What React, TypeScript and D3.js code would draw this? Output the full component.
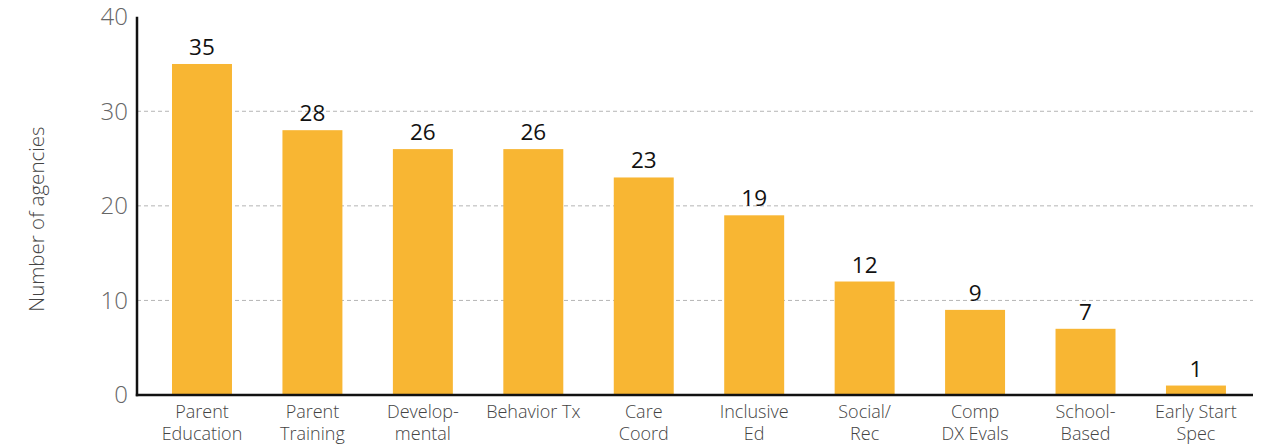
import React from "react";
import * as d3 from "d3";

const categories: string[][] = [
  ["Parent", "Education"],
  ["Parent", "Training"],
  ["Develop-", "mental"],
  ["Behavior Tx"],
  ["Care", "Coord"],
  ["Inclusive", "Ed"],
  ["Social/", "Rec"],
  ["Comp", "DX Evals"],
  ["School-", "Based"],
  ["Early Start", "Spec"],
];
const values: number[] = [35, 28, 26, 26, 23, 19, 12, 9, 7, 1];
const yTicks: number[] = [0, 10, 20, 30, 40];
const yTitle = "Number of agencies";

const W = 1264;
const H = 448;
const FONT = "'Open Sans', Lato, sans-serif";

export default function App() {
  const left = 137;
  const right = 1253;
  const y0 = 395;
  const y1 = 16.7;
  const keys = categories.map((c) => c.join(" "));
  const x = d3
    .scaleBand<string>()
    .domain(keys)
    .range([left, right])
    .paddingInner(0.457)
    .paddingOuter(0.281)
    .align(0.564);
  const y = d3.scaleLinear().domain([0, 40]).range([y0, y1]);

  return (
    <svg
      width={W}
      height={H}
      style={{ position: "absolute", left: 0, top: 0, display: "block" }}
    >
      <rect x={0} y={0} width={W} height={H} fill="#fff" />
      {yTicks
        .filter((t) => t > 0 && t < 40)
        .map((t) => (
          <line
            key={"g" + t}
            x1={left}
            x2={right}
            y1={y(t)}
            y2={y(t)}
            stroke="#b5b5b5"
            strokeWidth={1}
            strokeDasharray="4,3"
          />
        ))}
      {values.map((v, i) => (
        <rect
          key={"b" + i}
          x={x(keys[i])}
          y={y(v)}
          width={x.bandwidth()}
          height={y(0) - y(v)}
          fill="#F8B633"
        />
      ))}
      {values.map((v, i) => (
        <text
          key={"v" + i}
          x={(x(keys[i]) as number) + x.bandwidth() / 2}
          y={y(v) - 9}
          textAnchor="middle"
          fontFamily={FONT}
          fontSize={22.5}
          fill="#111"
        >
          {v}
        </text>
      ))}
      <line x1={left} x2={left} y1={y1} y2={y0 + 1.2} stroke="#111" strokeWidth={2.5} />
      <line x1={left - 1.2} x2={right} y1={y0} y2={y0} stroke="#111" strokeWidth={2.5} />
      {yTicks.map((t) => (
        <text
          key={"t" + t}
          x={128}
          y={y(t)}
          dy="0.35em"
          textAnchor="end"
          fontFamily={FONT}
          fontWeight={300}
          fontSize={24}
          fill="#666"
        >
          {t}
        </text>
      ))}
      {categories.map((lines, i) => (
        <text
          key={"c" + i}
          x={(x(keys[i]) as number) + x.bandwidth() / 2}
          y={418}
          textAnchor="middle"
          fontFamily={FONT}
          fontWeight={300}
          fontSize={18}
          fill="#444"
        >
          {lines.map((l, j) => (
            <tspan key={j} x={(x(keys[i]) as number) + x.bandwidth() / 2} dy={j === 0 ? 0 : 21.5}>
              {l}
            </tspan>
          ))}
        </text>
      ))}
      <text
        transform={`translate(44,${219}) rotate(-90)`}
        textAnchor="middle"
        fontFamily={FONT}
        fontWeight={300}
        fontSize={20.5}
        fill="#444"
      >
        {yTitle}
      </text>
    </svg>
  );
}
